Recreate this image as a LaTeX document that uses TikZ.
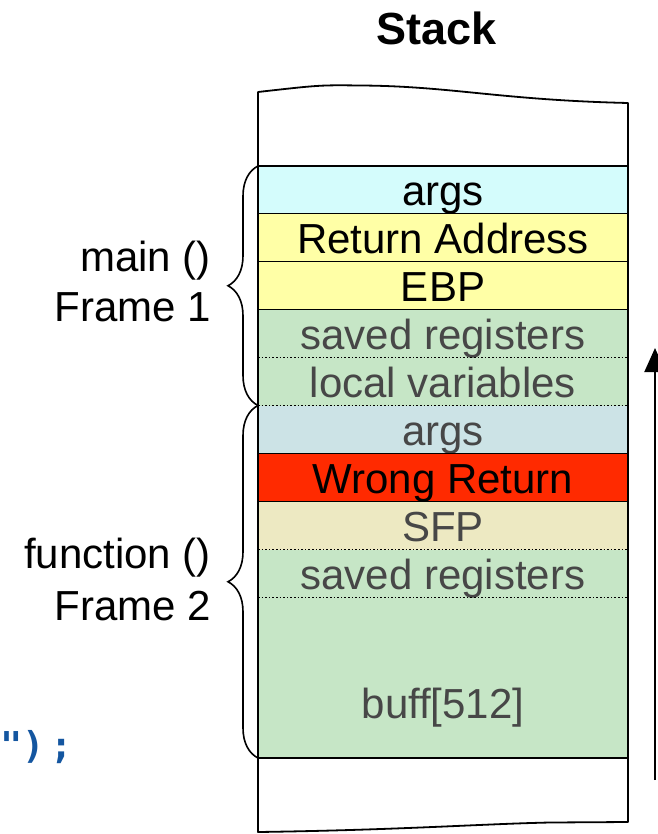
\documentclass[tikz,border=0pt]{standalone}
\usepackage{fontspec}
\setmainfont{Liberation Sans}
\newfontfamily\codefont{DejaVu Sans Mono}
\usetikzlibrary{decorations.pathreplacing,arrows.meta}

\definecolor{argscyan}{HTML}{D4FCFC}
\definecolor{frameyellow}{HTML}{FFFFA6}
\definecolor{retred}{HTML}{FF2A00}
\definecolor{stipgreen}{HTML}{C6E6C6}
\definecolor{stipblue}{HTML}{CCE3E6}
\definecolor{stipyellow}{HTML}{EDE9C2}
\definecolor{codeblue}{HTML}{1456A0}

\begin{document}
\begin{tikzpicture}[x=1pt,y=-1pt,
  cell/.style={rectangle, inner sep=0pt, outer sep=0pt, minimum width=370pt, minimum height=#1, anchor=north},
  cell/.default=48pt,
  celltext/.style={anchor=base, inner sep=0pt, font=\fontsize{42}{48}\selectfont},
  faded/.style={celltext, text=black!72},
  solidrule/.style={line width=1.8pt},
  dotrule/.style={line width=1.6pt, dotted},
  outline/.style={line width=1.8pt, line join=round},
  framebrace/.style={line width=1.6pt, decorate, decoration={brace, amplitude=30pt}},
  framelabel/.style={anchor=base east, inner sep=0pt, font=\fontsize{42}{48}\selectfont},
]
\useasboundingbox (0,0) rectangle (657,834);

% title
\node[anchor=base, inner sep=0pt, font=\fontsize{45}{50}\selectfont\bfseries] (title) at (436.5,45) {Stack};

% stack cells, top to bottom
\node[cell=47.5pt, fill=argscyan]   (args1)  at (443,166) {};
\node[cell, fill=frameyellow]        (ret)    at (args1.south) {};
\node[cell, fill=frameyellow]        (ebp)    at (ret.south) {};
\node[cell, fill=stipgreen]          (saved1) at (ebp.south) {};
\node[cell, fill=stipgreen]          (locals) at (saved1.south) {};
\node[cell, fill=stipblue]           (args2)  at (locals.south) {};
\node[cell, fill=retred]             (wrong)  at (args2.south) {};
\node[cell, fill=stipyellow]         (sfp)    at (wrong.south) {};
\node[cell, fill=stipgreen]          (saved2) at (sfp.south) {};
\node[cell=160.5pt, fill=stipgreen]  (buff)   at (saved2.south) {};

% cell texts
\node[celltext] (t-args1)  at ([yshift=8pt]args1.south)  {args};
\node[celltext] (t-ret)    at ([yshift=8pt]ret.south)    {Return Address};
\node[celltext] (t-ebp)    at ([yshift=8pt]ebp.south)    {EBP};
\node[faded]    (t-saved1) at ([yshift=8pt]saved1.south) {saved registers};
\node[faded]    (t-locals) at ([yshift=8pt]locals.south) {local variables};
\node[faded]    (t-args2)  at ([yshift=8pt]args2.south)  {args};
\node[celltext] (t-wrong)  at ([yshift=8pt]wrong.south)  {Wrong Return};
\node[faded]    (t-sfp)    at ([yshift=8pt]sfp.south)    {SFP};
\node[faded]    (t-saved2) at ([yshift=8pt]saved2.south) {saved registers};
\node[faded]    (t-buff)   at ([yshift=40pt]buff.south)  {buff[512]};

% separators between cells
\draw[solidrule] (args1.north west) -- (args1.north east);
\draw[solidrule] (args1.south west) -- (args1.south east);
\draw[solidrule] (ret.south west) -- (ret.south east);
\draw[solidrule] (ebp.south west) -- (ebp.south east);
\draw[dotrule]   (saved1.south west) -- (saved1.south east);
\draw[dotrule]   (locals.south west) -- (locals.south east);
\draw[solidrule] (args2.south west) -- (args2.south east);
\draw[solidrule] (wrong.south west) -- (wrong.south east);
\draw[dotrule]   (sfp.south west) -- (sfp.south east);
\draw[dotrule]   (saved2.south west) -- (saved2.south east);
\draw[solidrule] (buff.south west) -- (buff.south east);

% torn-paper outline of the stack
\coordinate (tl) at (258,92);
\coordinate (tr) at (628,103);
\coordinate (bl) at (258,832);
\coordinate (br) at (628,822);
\draw[outline] (tr) .. controls (500,100) and (450,86) .. (360,85.5)
  .. controls (320,85) .. (tl) -- (bl)
  .. controls (400,830) and (480,824) .. (550,822.5) -- (br) -- cycle;

% frame braces and labels
\draw[framebrace] (args2.north west) -- (args1.north west);
\draw[framebrace] (buff.south west) -- (args2.north west);
\node[framelabel] (main-name)  at (211,271.7) {main ()};
\node[framelabel] (main-frame) at (211,321.7) {Frame 1};
\node[framelabel] (fn-name)    at (211,568)   {function ()};
\node[framelabel] (fn-frame)   at (211,620)   {Frame 2};

% stray end of a code line
\node[anchor=base west, inner sep=0pt, text=codeblue,
      font=\codefont\bfseries\fontsize{37}{40}\selectfont] (code) at (0,758) {")\hspace{6pt};};

% growth direction arrow
\coordinate (climb-base) at (655,780);
\coordinate (climb-tip)  at (655,348);
\draw[line width=2pt, -{Triangle[length=24pt,width=21pt]}] (climb-base) -- (climb-tip);
\end{tikzpicture}
\end{document}
